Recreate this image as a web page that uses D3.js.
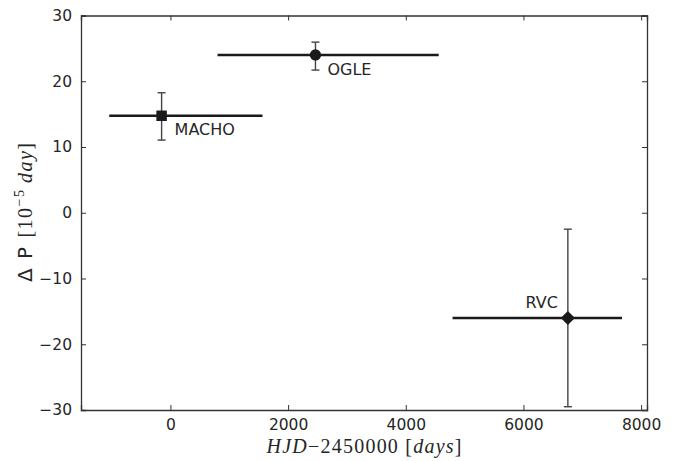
<!DOCTYPE html>
<html><head><meta charset="utf-8">
<script src="https://cdn.jsdelivr.net/npm/d3@7"></script>
<style>body{margin:0;background:#fff;} svg{display:block;}</style>
</head><body>
<script>
const names = ["MACHO", "OGLE", "RVC"];
const xVals = [-150, 2465, 6755];
const yVals = [14.75, 24.0, -16.0];
const xLow = [-1040, 800, 4795];
const xHigh = [1565, 4560, 7675];
const yHigh = [18.25, 25.95, -2.5];
const yLow = [11.05, 21.7, -29.5];
const markers = ["square", "circle", "diamond"];
const xTicks = [0, 2000, 4000, 6000, 8000];
const yTicks = [-30, -20, -10, 0, 10, 20, 30];

const W = 692, H = 461;
const svg = d3.select("body").append("svg").attr("width", W).attr("height", H);
const x = d3.scaleLinear().domain([-1520, 8100]).range([81, 647]);
const y = d3.scaleLinear().domain([-30, 30]).range([410, 15.5]);
const fmt = d => (d < 0 ? "\u2212" + Math.abs(d) : String(d));
const tickColor = "#262626";
const font = "DejaVu Sans, sans-serif";
const serif = "Liberation Serif, serif";

// axes (inward ticks on all four sides)
const axB = svg.append("g").attr("transform", `translate(0,${y.range()[0]})`)
  .call(d3.axisBottom(x).tickValues(xTicks).tickSize(-5).tickPadding(9).tickFormat(fmt));
const axT = svg.append("g").attr("transform", `translate(0,${y.range()[1]})`)
  .call(d3.axisTop(x).tickValues(xTicks).tickSize(-5).tickFormat(""));
const axL = svg.append("g").attr("transform", `translate(${x.range()[0]},0)`)
  .call(d3.axisLeft(y).tickValues(yTicks).tickSize(-5).tickPadding(9).tickFormat(fmt));
const axR = svg.append("g").attr("transform", `translate(${x.range()[1]},0)`)
  .call(d3.axisRight(y).tickValues(yTicks).tickSize(-5).tickFormat(""));
[axB, axT, axL, axR].forEach(g => {
  g.select(".domain").attr("stroke", "#333").attr("stroke-width", 1.3);
  g.selectAll(".tick line").attr("stroke", "#333").attr("stroke-width", 1);
  g.selectAll(".tick text").attr("fill", tickColor).style("font-family", font).style("font-size", "15.5px");
});

const pts = names.map((n, i) => ({ n, x: xVals[i], y: yVals[i], xl: xLow[i], xh: xHigh[i], yl: yLow[i], yh: yHigh[i], m: markers[i] }));
const plot = svg.append("g");

// x error bars (thick)
plot.selectAll("line.xe").data(pts).join("line").attr("class", "xe")
  .attr("x1", d => x(d.xl)).attr("x2", d => x(d.xh))
  .attr("y1", d => y(d.y)).attr("y2", d => y(d.y))
  .attr("stroke", "#1a1a1a").attr("stroke-width", 2.6);
// y error bars (thin, capped)
plot.selectAll("line.ye").data(pts).join("line").attr("class", "ye")
  .attr("x1", d => x(d.x)).attr("x2", d => x(d.x))
  .attr("y1", d => y(d.yl)).attr("y2", d => y(d.yh))
  .attr("stroke", "#444").attr("stroke-width", 1.4);
["yl", "yh"].forEach(k => {
  plot.selectAll("line.cap" + k).data(pts).join("line").attr("class", "cap" + k)
    .attr("x1", d => x(d.x) - 4).attr("x2", d => x(d.x) + 4)
    .attr("y1", d => y(d[k])).attr("y2", d => y(d[k]))
    .attr("stroke", "#444").attr("stroke-width", 1.4);
});
// markers
const sym = { square: d3.symbolSquare, circle: d3.symbolCircle, diamond: d3.symbolSquare };
const sizes = { square: 110, circle: 100, diamond: 100 };
plot.selectAll("path.mk").data(pts).join("path").attr("class", "mk")
  .attr("d", d => d3.symbol(sym[d.m], sizes[d.m])())
  .attr("transform", d => `translate(${x(d.x)},${y(d.y)})` + (d.m === "diamond" ? " rotate(45)" : ""))
  .attr("fill", "#1a1a1a");

// labels
const lblDx = [13, 12, -10];
const lblDy = [19, 20, -10];
const anchors = ["start", "start", "end"];
plot.selectAll("text.lbl").data(pts).join("text").attr("class", "lbl")
  .attr("x", (d, i) => x(d.x) + lblDx[i]).attr("y", (d, i) => y(d.y) + lblDy[i])
  .attr("text-anchor", (d, i) => anchors[i])
  .style("font-family", font).style("font-size", "16px").attr("fill", tickColor)
  .text(d => d.n);

// x label
const xl = svg.append("text").attr("x", 364).attr("y", 453).attr("text-anchor", "middle")
  .attr("textLength", 195).attr("lengthAdjust", "spacing")
  .style("font-family", serif).style("font-size", "20px").attr("fill", tickColor);
xl.append("tspan").style("font-style", "italic").text("HJD");
xl.append("tspan").text("\u22122450000 [");
xl.append("tspan").style("font-style", "italic").text("days");
xl.append("tspan").text("]");

// y label
const yl = svg.append("text").attr("transform", "translate(31.5,212.5) rotate(-90)").attr("text-anchor", "middle")
  .attr("textLength", 139).attr("lengthAdjust", "spacing")
  .style("font-size", "20px").attr("fill", tickColor);
yl.append("tspan").style("font-family", font).text("\u0394 P  ");
yl.append("tspan").style("font-family", serif).text("[10");
yl.append("tspan").style("font-family", serif).style("font-size", "14px").attr("dy", -8).text("\u22125");
yl.append("tspan").style("font-family", serif).style("font-style", "italic").attr("dy", 8).text("\u2009day");
yl.append("tspan").style("font-family", serif).text("]");
</script>
</body></html>
